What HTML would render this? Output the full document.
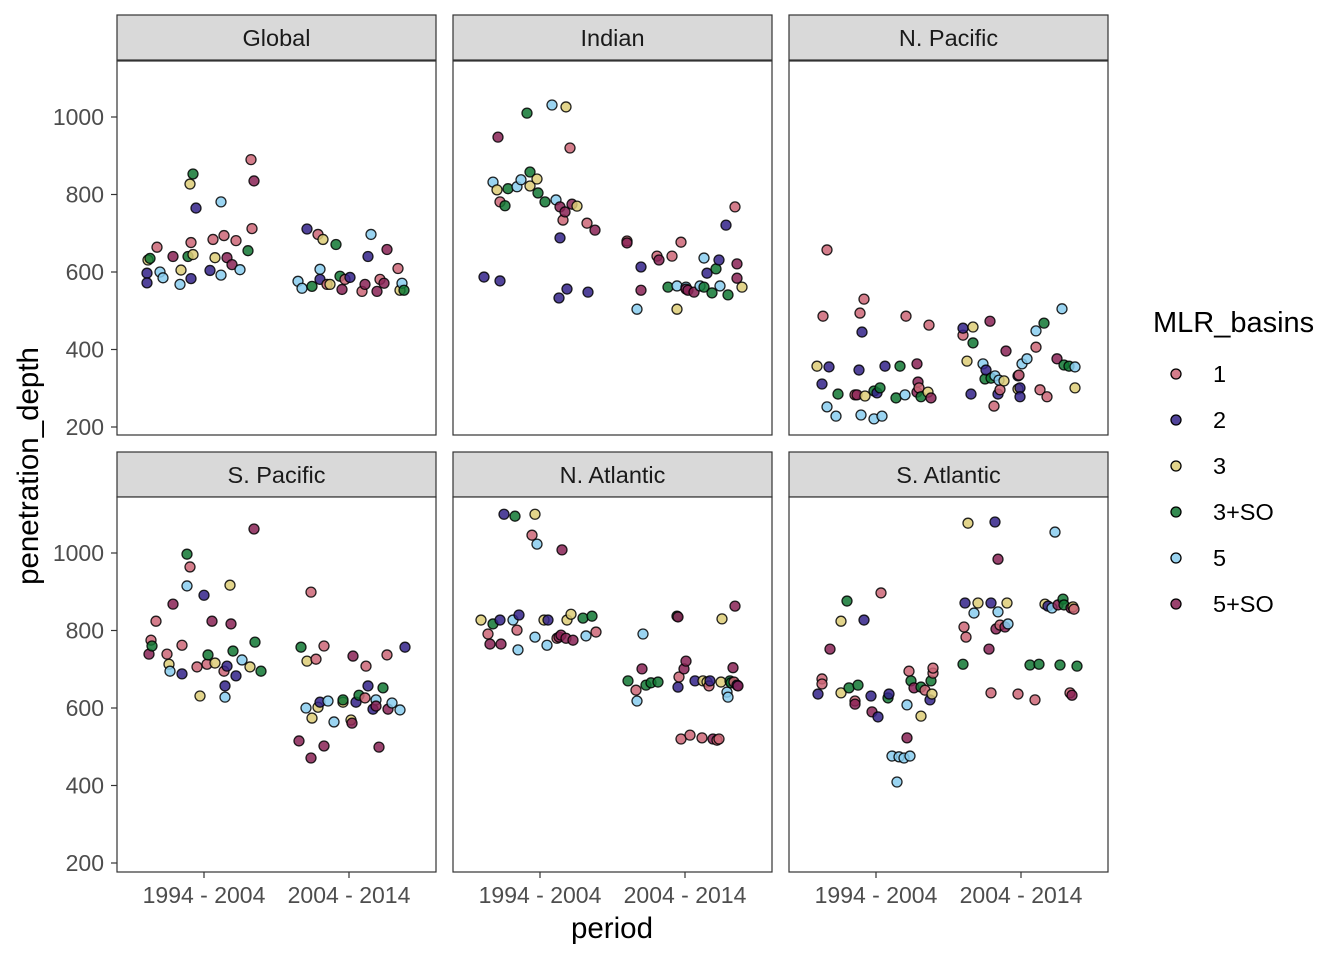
<!DOCTYPE html>
<html><head><meta charset="utf-8"><style>
body{margin:0;background:#fff;}
svg text{font-family:"Liberation Sans",Arial,sans-serif;}
</style></head><body>
<svg id="chart" width="1344" height="960" xmlns="http://www.w3.org/2000/svg"></svg>
<script>
const facets = ["Global","Indian","N. Pacific","S. Pacific","N. Atlantic","S. Atlantic"];
const periods = ["1994 - 2004","2004 - 2014"];
const basins = ["1","2","3","3+SO","5","5+SO"];
const basinColors = ["#CC6677","#332288","#DDCC77","#117733","#88CCEE","#882255"];
const yTicks = [200,400,600,800,1000];
// each point: [periodIndex, jitter (1/145 of period spacing), penetration_depth, basinIndex]
const globalPts = [[0,-57,597,1],[0,-57,572,1],[0,-56,631,2],[0,-54,635,3],[0,-47,664,0],[0,-44,600,4],[0,-41,585,4],[0,-31,640,5],[0,-23,605,2],[0,-24,568,4],[0,-16,640,3],[0,-13,676,0],[0,-13,583,1],[0,-14,827,2],[0,-11,853,3],[0,-8,765,1],[0,-11,645,2],[0,6,604,1],[0,9,684,0],[0,11,637,2],[0,17,592,4],[0,17,781,4],[0,20,694,0],[0,23,637,5],[0,28,619,5],[0,32,681,0],[0,36,606,4],[0,44,655,3],[0,47,890,0],[0,50,835,5],[0,48,712,0],
[1,-51,576,4],[1,-47,558,4],[1,-42,711,1],[1,-37,563,3],[1,-31,697,0],[1,-29,607,4],[1,-26,684,2],[1,-29,581,1],[1,-22,568,0],[1,-19,568,2],[1,-13,671,3],[1,-9,589,3],[1,-7,555,5],[1,-4,581,0],[1,1,586,1],[1,13,550,0],[1,16,568,5],[1,22,697,4],[1,19,640,1],[1,28,550,5],[1,31,581,0],[1,35,571,5],[1,38,658,5],[1,49,609,0],[1,51,553,2],[1,53,571,4],[1,55,553,3]];
const indianPts = [[0,-56,587,1],[0,-40,577,1],[0,-47,832,4],[0,-43,812,2],[0,-42,948,5],[0,-40,781,0],[0,-35,771,3],[0,-32,815,3],[0,-23,820,4],[0,-19,838,4],[0,-13,1010,3],[0,-10,858,3],[0,-10,822,2],[0,-3,840,2],[0,-2,804,3],[0,5,781,3],[0,12,1031,4],[0,16,786,4],[0,19,533,1],[0,20,688,1],[0,20,768,5],[0,23,734,0],[0,25,755,5],[0,26,1026,2],[0,27,556,1],[0,30,920,0],[0,32,775,5],[0,37,770,2],[0,47,726,0],[0,48,548,1],[0,55,708,5],
[1,-58,680,0],[1,-58,675,5],[1,-48,504,4],[1,-44,553,5],[1,-44,613,1],[1,-28,641,0],[1,-26,631,5],[1,-17,561,3],[1,-13,641,0],[1,-8,564,4],[1,-8,504,2],[1,-4,677,0],[1,1,561,4],[1,1,556,5],[1,3,553,5],[1,9,548,5],[1,15,564,4],[1,19,636,4],[1,19,561,3],[1,22,597,1],[1,27,546,3],[1,31,608,3],[1,34,631,1],[1,35,564,4],[1,41,721,1],[1,43,541,3],[1,50,768,0],[1,52,621,5],[1,52,584,5],[1,57,561,2]];
const nPacificPts = [[0,-59,357,2],[0,-54,311,1],[0,-53,486,0],[0,-49,657,0],[0,-49,252,4],[0,-47,355,1],[0,-40,228,4],[0,-38,285,3],[0,-21,283,0],[0,-19,283,5],[0,-17,347,1],[0,-16,494,0],[0,-15,231,4],[0,-14,445,1],[0,-12,530,0],[0,-11,280,2],[0,-2,221,4],[0,-2,293,3],[0,1,288,1],[0,4,301,3],[0,6,228,4],[0,9,357,1],[0,20,275,3],[0,24,357,3],[0,30,486,0],[0,29,283,4],[0,41,290,5],[0,41,363,5],[0,42,316,5],[0,43,301,0],[0,45,278,3],[0,52,290,2],[0,53,463,0],[0,55,275,5],
[1,-58,437,0],[1,-58,455,1],[1,-54,370,2],[1,-50,285,1],[1,-48,458,2],[1,-48,417,3],[1,-38,363,4],[1,-36,324,3],[1,-35,347,1],[1,-31,473,5],[1,-30,326,3],[1,-27,254,0],[1,-26,332,4],[1,-23,285,1],[1,-21,296,0],[1,-22,321,4],[1,-17,319,2],[1,-15,396,5],[1,-3,298,2],[1,-3,332,1],[1,-2,334,0],[1,-1,301,1],[1,-1,278,1],[1,1,363,4],[1,6,376,4],[1,15,406,0],[1,15,448,4],[1,19,296,0],[1,23,468,3],[1,26,278,0],[1,36,376,5],[1,41,505,4],[1,43,360,3],[1,48,357,3],[1,54,355,4],[1,54,301,2]];
const sPacificPts = [[0,-55,739,5],[0,-53,775,0],[0,-52,760,3],[0,-48,824,0],[0,-37,739,0],[0,-35,713,2],[0,-34,695,4],[0,-31,868,5],[0,-22,688,1],[0,-22,762,0],[0,-17,997,3],[0,-17,915,4],[0,-14,964,0],[0,-7,706,0],[0,-4,631,2],[0,0,891,1],[0,3,713,0],[0,4,737,3],[0,8,824,5],[0,11,716,2],[0,20,695,0],[0,21,657,1],[0,21,628,4],[0,23,708,1],[0,26,917,2],[0,27,817,5],[0,29,747,3],[0,32,683,1],[0,38,724,4],[0,46,706,2],[0,50,1062,5],[0,51,770,3],[0,57,695,3],
[1,-50,515,5],[1,-48,757,3],[1,-43,600,4],[1,-42,721,2],[1,-38,899,0],[1,-38,471,5],[1,-37,574,2],[1,-33,726,0],[1,-31,602,2],[1,-29,615,1],[1,-25,502,5],[1,-25,760,0],[1,-21,618,4],[1,-15,564,4],[1,-6,615,2],[1,-6,621,3],[1,2,569,2],[1,3,561,5],[1,4,734,5],[1,7,615,1],[1,10,633,3],[1,16,626,0],[1,17,708,0],[1,19,657,1],[1,24,597,1],[1,27,621,4],[1,30,499,5],[1,34,652,3],[1,38,737,0],[1,39,597,5],[1,43,613,4],[1,51,595,4],[1,56,757,1],[1,27,605,5]];
const nAtlanticPts = [[0,-59,827,2],[0,-52,791,0],[0,-50,765,5],[0,-47,817,3],[0,-40,827,1],[0,-39,765,5],[0,-36,1100,1],[0,-25,1095,3],[0,-27,827,4],[0,-23,801,0],[0,-22,750,4],[0,-21,840,1],[0,-5,783,4],[0,-8,1046,0],[0,-5,1100,2],[0,-3,1023,4],[0,7,762,4],[0,4,827,2],[0,8,827,1],[0,17,780,0],[0,19,783,5],[0,22,1008,5],[0,21,788,5],[0,26,780,5],[0,27,827,2],[0,31,842,2],[0,33,775,5],[0,43,832,3],[0,46,786,4],[0,52,837,3],[0,56,796,0],
[1,-57,670,3],[1,-49,646,0],[1,-48,618,4],[1,-42,791,4],[1,-43,701,5],[1,-39,659,3],[1,-34,665,3],[1,-27,667,3],[1,-8,837,3],[1,-7,835,5],[1,-7,654,1],[1,-6,680,0],[1,-4,520,0],[1,-1,701,5],[1,1,721,5],[1,5,530,0],[1,10,670,1],[1,17,523,0],[1,18,670,2],[1,22,667,2],[1,24,657,0],[1,25,670,1],[1,28,520,5],[1,32,517,0],[1,34,520,0],[1,36,667,2],[1,37,830,2],[1,42,641,4],[1,45,670,3],[1,46,665,3],[1,48,704,5],[1,49,667,0],[1,52,659,1],[1,53,657,5],[1,50,863,5],[1,43,628,4]];
const sAtlanticPts = [[0,-58,636,1],[0,-54,675,0],[0,-54,662,0],[0,-46,752,5],[0,-35,639,2],[0,-35,824,2],[0,-29,876,3],[0,-27,652,3],[0,-21,618,0],[0,-21,610,5],[0,-18,659,3],[0,-12,827,1],[0,-4,590,5],[0,2,577,1],[0,-5,631,1],[0,5,897,0],[0,12,626,3],[0,13,636,1],[0,16,476,4],[0,21,409,4],[0,23,474,4],[0,28,471,4],[0,31,523,5],[0,34,476,4],[0,31,608,4],[0,33,695,0],[0,35,670,3],[0,38,652,5],[0,45,654,3],[0,45,579,2],[0,49,646,0],[0,54,621,1],[0,56,636,2],[0,55,670,3],[0,57,690,0],[0,57,703,0],
[1,-58,713,3],[1,-57,809,0],[1,-56,871,1],[1,-55,783,0],[1,-53,1077,2],[1,-47,845,4],[1,-43,871,2],[1,-32,752,5],[1,-30,871,1],[1,-30,639,0],[1,-26,1080,1],[1,-25,804,5],[1,-23,984,5],[1,-23,848,4],[1,-21,814,0],[1,-16,809,5],[1,-14,871,2],[1,-13,817,4],[1,-3,636,0],[1,9,711,3],[1,14,621,0],[1,18,713,3],[1,24,868,2],[1,27,863,1],[1,31,858,4],[1,34,1054,4],[1,37,866,5],[1,39,711,3],[1,42,881,3],[1,43,866,3],[1,49,639,0],[1,50,858,5],[1,51,633,5],[1,52,861,2],[1,53,855,0],[1,56,708,3]];
const facetPoints = [globalPts,indianPts,nPacificPts,sPacificPts,nAtlanticPts,sAtlanticPts];

const NS="http://www.w3.org/2000/svg";
const svg=document.getElementById('chart');
function mk(tag,attrs,parent){const e=document.createElementNS(NS,tag);for(const k in attrs)e.setAttribute(k,attrs[k]);(parent||svg).appendChild(e);return e;}
const colX=[117,453,789], panelW=319;
const rowStripY=[15,452], rowPanelY=[61,497], panelH=[374,375];
const row1000=[117,553], pxPerUnit=310/800;
function yScale(row,v){return row1000[row]+(1000-v)*pxPerUnit;}
const centerOff=[87,232], periodSpacing=145;
function xScale(col,p,j){return colX[col]+centerOff[p]+j*periodSpacing/145;}

facets.forEach((f,i)=>{
  const col=i%3,row=Math.floor(i/3);
  const g=mk('g',{});
  
  
  const strip=mk('rect',{x:colX[col],y:rowStripY[row],width:panelW,height:45,fill:'#D9D9D9',stroke:'#333','stroke-width':1.2},g);
  
  
  const st=mk('text',{x:colX[col]+panelW/2,y:rowStripY[row]+31,'text-anchor':'middle','font-size':23.5,fill:'#1a1a1a'},g);
  st.textContent=f;
  
  
  const pr=mk('rect',{x:colX[col],y:rowPanelY[row],width:panelW,height:panelH[row],fill:'#fff',stroke:'#333','stroke-width':1.2},g);
  
  
  facetPoints[i].forEach(pt=>{
    const c=mk('circle',{cx:xScale(col,pt[0],pt[1]),cy:yScale(row,pt[2]),r:5,fill:basinColors[pt[3]],'fill-opacity':0.85,stroke:'#000','stroke-opacity':0.85,'stroke-width':1.3},g);
    
    
  });
  if(col===0){
    yTicks.forEach(t=>{
      const y=yScale(row,t);
      mk('line',{x1:111,x2:117,y1:y,y2:y,stroke:'#333','stroke-width':1.2},g);
      const tl=mk('text',{x:104,y:y+8,'text-anchor':'end','font-size':23,fill:'#4d4d4d'},g);
      tl.textContent=t;
      
      
    });
  }
  if(row===1){
    periods.forEach((p,pi)=>{
      const x=colX[col]+centerOff[pi];
      mk('line',{x1:x,x2:x,y1:872,y2:878,stroke:'#333','stroke-width':1.2},g);
      const xl=mk('text',{x:x,y:903,'text-anchor':'middle','font-size':23,fill:'#4d4d4d'},g);
      xl.textContent=p;
      
      
    });
  }
});
const xt=mk('text',{x:612,y:938,'text-anchor':'middle','font-size':29.5,fill:'#000'});
xt.textContent='period';


const yt=mk('text',{x:0,y:0,'text-anchor':'middle','font-size':29.5,fill:'#000',transform:'translate(38,466) rotate(-90)'});
yt.textContent='penetration_depth';


const lt=mk('text',{x:1153,y:332,'font-size':29,fill:'#000'});
lt.textContent='MLR_basins';


basins.forEach((b,i)=>{
  const y=374+i*46;
  const lg=mk('g',{});
  
  
  mk('circle',{cx:1176,cy:y,r:5,fill:basinColors[i],'fill-opacity':0.85,stroke:'#000','stroke-width':1.3},lg);
  const t=mk('text',{x:1213,y:y+8,'font-size':23.5,fill:'#000'},lg);
  t.textContent=b;
});
</script>
</body></html>
